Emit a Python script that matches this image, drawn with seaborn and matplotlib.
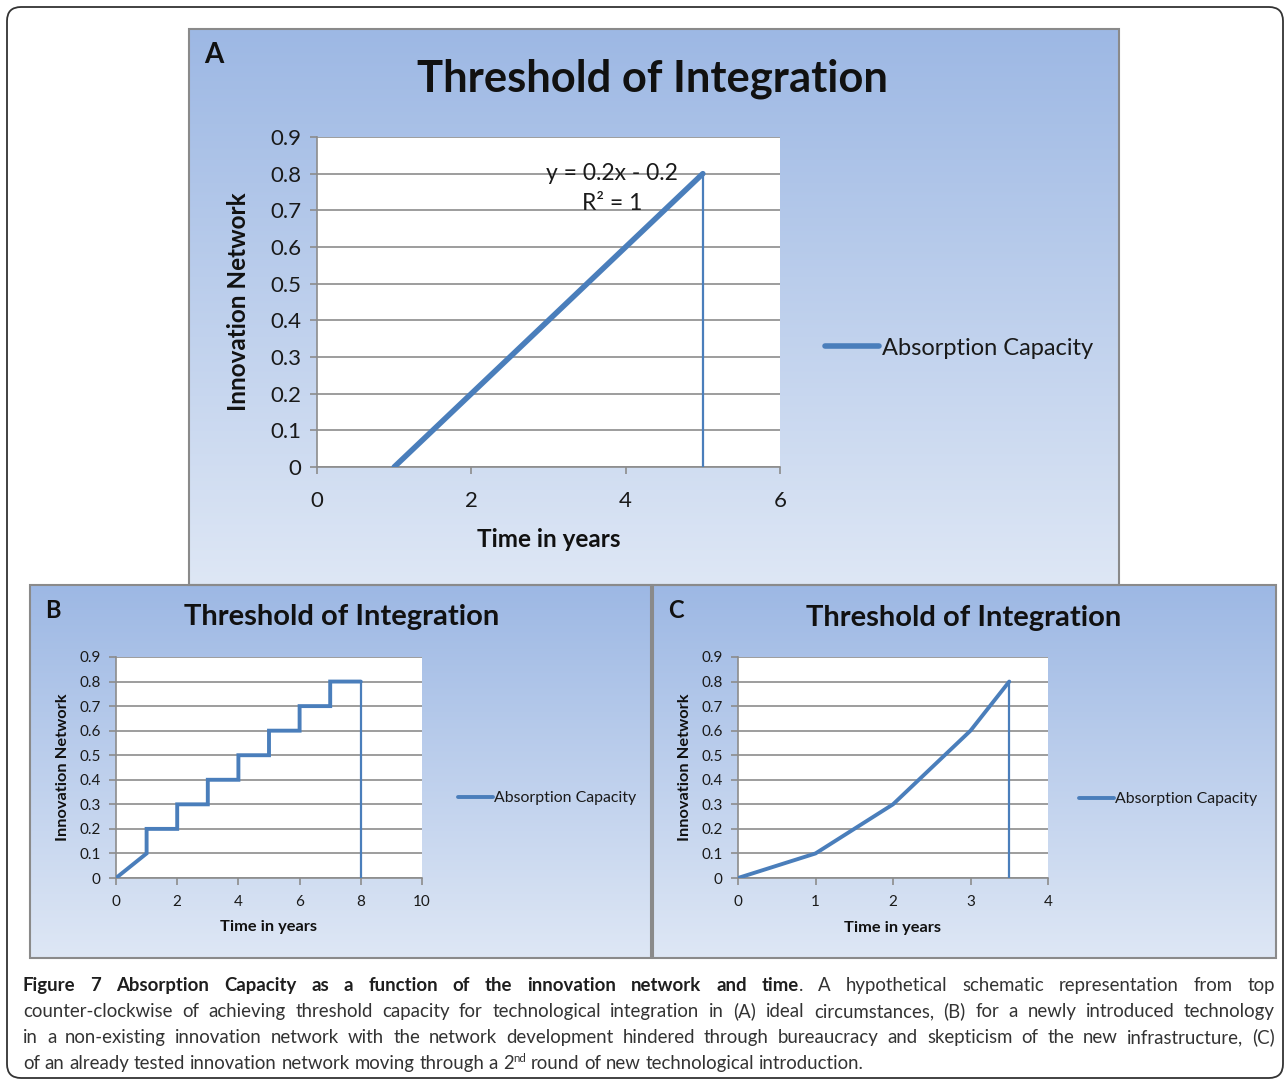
import numpy as np
import matplotlib
matplotlib.use("Agg")
import matplotlib.pyplot as plt
import seaborn as sns
from matplotlib.patches import FancyBboxPatch, Rectangle
from matplotlib.lines import Line2D
from matplotlib.ticker import FuncFormatter
from matplotlib.transforms import IdentityTransform

# ---------------- data ----------------
a_time = [1, 5]
a_value = [0.0, 0.8]
a_drop_time = [5, 5]
a_drop_value = [0.8, 0.0]

b_time = [0, 1, 1, 2, 2, 3, 3, 4, 4, 5, 5, 6, 6, 7, 7, 8]
b_value = [0.0, 0.1, 0.2, 0.2, 0.3, 0.3, 0.4, 0.4, 0.5, 0.5, 0.6, 0.6, 0.7, 0.7, 0.8, 0.8]
b_drop_time = [8, 8]
b_drop_value = [0.8, 0.0]

c_time = [0, 1, 2, 3, 3.5]
c_value = [0.0, 0.1, 0.3, 0.6, 0.8]
c_drop_time = [3.5, 3.5]
c_drop_value = [0.8, 0.0]

y_ticks = [0.0, 0.1, 0.2, 0.3, 0.4, 0.5, 0.6, 0.7, 0.8, 0.9]
a_xticks = [0, 2, 4, 6]
b_xticks = [0, 2, 4, 6, 8, 10]
c_xticks = [0, 1, 2, 3, 4]

title_text = "Threshold of Integration"
series_label = "Absorption Capacity"
y_label = "Innovation Network"
x_label = "Time in years"
trend_eq = "y = 0.2x - 0.2"
trend_r2 = "R² = 1"

# ---------------- style ----------------
sns.set_style("white")
plt.rcParams['font.family'] = ['Lato', 'DejaVu Sans']
BLUE = '#4a7ebb'
GRID = '#8c8c8c'

W, H = 1287, 1081
fig = plt.figure(figsize=(W / 100, H / 100), dpi=100)
fig.patch.set_facecolor('white')


def frac(x0, y0, x1, y1):
    return [x0 / W, 1 - y1 / H, (x1 - x0) / W, (y1 - y0) / H]


def background(x0, y0, x1, y1):
    ax = fig.add_axes(frac(x0, y0, x1, y1), zorder=0)
    g = np.linspace(0, 1, 256)[:, None, None]
    top = np.array([157, 184, 228]) / 255
    bot = np.array([222, 231, 245]) / 255
    img = top + (bot - top) * g
    ax.imshow(img, aspect='auto', extent=[0, 1, 0, 1], origin='upper')
    ax.set_axis_off()
    fig.add_artist(Rectangle((x0 / W, 1 - y1 / H), (x1 - x0) / W, (y1 - y0) / H,
                             transform=fig.transFigure, fill=False,
                             edgecolor='#8a8a8a', lw=1.5, zorder=1))


def panel(rect, xs, ys, dxs, dys, xticks, lw, tick_fs, lab_fs, ylab_x, xlab_y):
    ax = fig.add_axes(frac(*rect), zorder=2)
    ax.set_facecolor('white')
    sns.lineplot(x=xs, y=ys, ax=ax, color=BLUE, lw=lw, estimator=None, sort=False,
                 solid_capstyle='round', solid_joinstyle='miter', zorder=3)
    sns.lineplot(x=dxs, y=dys, ax=ax, color=BLUE, lw=1.6, estimator=None, sort=False,
                 zorder=3)
    ax.set_xlim(xticks[0], xticks[-1])
    ax.set_ylim(0, 0.9)
    ax.set_xticks(xticks)
    ax.set_yticks(y_ticks)
    ax.yaxis.set_major_formatter(FuncFormatter(lambda v, p: '0' if abs(v) < 1e-9 else f'{v:.1f}'))
    ax.grid(False)
    ax.yaxis.grid(True, color=GRID, lw=1.2)
    ax.set_axisbelow(True)
    for s in ['top', 'right']:
        ax.spines[s].set_visible(False)
    for s in ['left', 'bottom']:
        ax.spines[s].set_color(GRID)
        ax.spines[s].set_linewidth(1.2)
    ax.tick_params(axis='both', which='major', direction='out', length=5, width=1.2,
                   color=GRID, labelsize=tick_fs, labelcolor='#1a1a1a',
                   left=True, bottom=True, pad=6)
    ax.set_ylabel(y_label, fontsize=lab_fs, fontweight='bold', color='#111111', va='center')
    ax.yaxis.set_label_coords(ylab_x, 0.5)
    ax.set_xlabel(x_label, fontsize=lab_fs, fontweight='bold', color='#111111', va='center')
    ax.xaxis.set_label_coords(0.5, xlab_y)
    return ax


# backgrounds
background(189, 29, 1119, 585)
background(30, 585, 651, 958)
background(653, 585, 1276, 958)

# panel A
axA = panel((317, 137, 780, 467), a_time, a_value, a_drop_time, a_drop_value, a_xticks,
            lw=4.0, tick_fs=16, lab_fs=17.5, ylab_x=-0.17, xlab_y=-0.22)
axA.tick_params(axis='x', pad=12)
axA.text(3.82, 0.8, trend_eq, ha='center', va='center', fontsize=16.5, color='#1a1a1a', zorder=4)
axA.text(3.82, 0.72, trend_r2, ha='center', va='center', fontsize=16.5, color='#1a1a1a', zorder=4)

# panel B
axB = panel((116, 657, 422, 878), b_time, b_value, b_drop_time, b_drop_value, b_xticks,
            lw=2.8, tick_fs=11, lab_fs=11.8, ylab_x=-0.173, xlab_y=-0.222)
axB.tick_params(axis='x', pad=7)

# panel C
axC = panel((738, 657, 1048, 878), c_time, c_value, c_drop_time, c_drop_value, c_xticks,
            lw=2.8, tick_fs=11, lab_fs=11.8, ylab_x=-0.171, xlab_y=-0.226)
axC.tick_params(axis='x', pad=7)

# titles and letters
fig.text(652 / W, 1 - 79 / H, title_text, ha='center', va='center', fontsize=31.3,
         fontweight='bold', color='#111111', zorder=5)
fig.text(342 / W, 1 - 617 / H, title_text, ha='center', va='center', fontsize=21,
         fontweight='bold', color='#111111', zorder=5)
fig.text(964 / W, 1 - 618 / H, title_text, ha='center', va='center', fontsize=21,
         fontweight='bold', color='#111111', zorder=5)
for lx, ly, txt, fs in [(214, 55, 'A', 20), (53, 610, 'B', 17), (676, 610, 'C', 17)]:
    fig.text(lx / W, 1 - ly / H, txt, ha='center', va='center', fontsize=fs,
             fontweight='bold', color='#111111', zorder=5)

# legends
for (lx, ly, fs, hl, lw) in [(825, 348, 17, 2.3, 4.0), (458, 798, 11.4, 2.2, 2.8),
                             (1079, 799, 11.4, 2.2, 2.8)]:
    fig.legend(handles=[Line2D([], [], color=BLUE, lw=lw)], labels=[series_label],
               loc='center left', bbox_to_anchor=(lx / W, 1 - ly / H), frameon=False,
               borderpad=0, borderaxespad=0, handlelength=hl, handletextpad=0.1,
               fontsize=fs, labelcolor='#1a1a1a')

# outer rounded border
fig.add_artist(FancyBboxPatch((7, H - 1078), 1276, 1071,
                              boxstyle="round,pad=0,rounding_size=14",
                              transform=IdentityTransform(), fill=False,
                              edgecolor='#333333', lw=1.3, zorder=0))

# ---------------- caption (justified) ----------------
CAP_FS = 13.4
B = ('bold', 1.0, 0)
R = ('normal', 1.0, 0)
caption_lines = [
    [[("Figure", B)], [("7", B)], [("Absorption", B)], [("Capacity", B)], [("as", B)], [("a", B)],
     [("function", B)], [("of", B)], [("the", B)], [("innovation", B)], [("network", B)],
     [("and", B)], [("time", B), (".", R)], [("A", R)], [("hypothetical", R)],
     [("schematic", R)], [("representation", R)], [("from", R)], [("top", R)]],
    [[(w, R)] for w in ("counter-clockwise of achieving threshold capacity for technological "
                        "integration in (A) ideal circumstances, (B) for a newly introduced "
                        "technology").split()],
    [[(w, R)] for w in ("in a non-existing innovation network with the network development "
                        "hindered through bureaucracy and skepticism of the new "
                        "infrastructure, (C)").split()],
    [[(w, R)] for w in "of an already tested innovation network moving through a".split()]
    + [[("2", R), ("nd", ('normal', 0.62, 7))]]
    + [[(w, R)] for w in "round of new technological introduction.".split()],
]
baselines = [991, 1017, 1043, 1069]
justify = [True, True, True, False]
X0, X1 = 23, 1275

fig.canvas.draw()
renderer = fig.canvas.get_renderer()


def measure(t):
    return t.get_window_extent(renderer).width


tmp = fig.text(0, 0, "a a", fontsize=CAP_FS)
tmp2 = fig.text(0, 0, "aa", fontsize=CAP_FS)
space_w = measure(tmp) - measure(tmp2)
tmp.remove()
tmp2.remove()

for line, base, just in zip(caption_lines, baselines, justify):
    words = []
    for word in line:
        parts = []
        for txt, (wt, sc, dy) in word:
            t = fig.text(0, 0, txt, fontsize=CAP_FS * sc, fontweight=wt,
                         color='#1e1e1e' if wt == 'bold' else '#333333',
                         ha='left', va='baseline')
            parts.append((t, measure(t), dy))
        words.append(parts)
    widths = [sum(p[1] for p in w) for w in words]
    if just:
        gap = (X1 - X0 - sum(widths)) / (len(words) - 1)
    else:
        gap = space_w
    x = X0
    for w, ww in zip(words, widths):
        cx = x
        for t, pw, dy in w:
            t.set_position((cx / W, 1 - (base - dy) / H))
            cx += pw
        x += ww + gap

fig.savefig("out.png", dpi=100, facecolor='white')
